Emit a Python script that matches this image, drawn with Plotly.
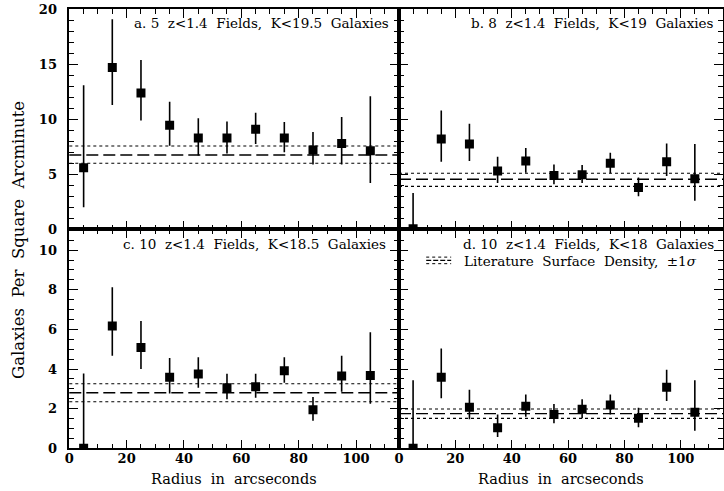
import plotly.graph_objects as go
from plotly.subplots import make_subplots

radius = [5, 15, 25, 35, 45, 55, 65, 75, 85, 95, 105]

a_val = [5.6, 14.7, 12.4, 9.45, 8.3, 8.3, 9.1, 8.3, 7.2, 7.8, 7.15]
a_hi = [13.1, 19.1, 15.4, 11.6, 10.1, 9.8, 10.6, 9.75, 8.85, 10.2, 12.1]
a_lo = [2.0, 11.3, 9.9, 7.6, 6.7, 6.9, 7.75, 7.0, 5.9, 5.9, 4.2]
a_lit = [6.75, 6.0, 7.57]

b_val = [0.05, 8.2, 7.75, 5.3, 6.2, 4.9, 4.95, 6.0, 3.8, 6.15, 4.6]
b_hi = [3.3, 10.8, 9.6, 6.6, 7.4, 5.9, 5.85, 6.95, 4.7, 7.8, 7.75]
b_lo = [0.0, 6.15, 6.2, 4.2, 5.15, 4.1, 4.2, 5.1, 3.0, 4.85, 2.6]
b_lit = [4.55, 3.9, 5.1]

c_val = [0.0, 6.17, 5.09, 3.58, 3.75, 3.06, 3.1, 3.91, 1.95, 3.65, 3.67]
c_hi = [3.78, 8.13, 6.42, 4.55, 4.59, 3.76, 3.76, 4.6, 2.59, 4.67, 5.85]
c_lo = [0.0, 4.67, 4.0, 2.77, 3.06, 2.47, 2.55, 3.31, 1.39, 2.85, 2.25]
c_lit = [2.8, 2.35, 3.26]

d_val = [0.0, 3.58, 2.07, 1.04, 2.12, 1.71, 1.97, 2.18, 1.51, 3.08, 1.82]
d_hi = [3.43, 5.04, 2.96, 1.71, 2.72, 2.23, 2.47, 2.72, 2.05, 3.96, 3.43]
d_lo = [0.0, 2.52, 1.46, 0.57, 1.59, 1.26, 1.51, 1.71, 1.06, 2.39, 0.89]
d_lit = [1.75, 1.51, 1.98]

titles = ["a. 5  z<1.4  Fields,  K<19.5  Galaxies",
          "b. 8  z<1.4  Fields,  K<19  Galaxies",
          "c. 10  z<1.4  Fields,  K<18.5  Galaxies",
          "d. 10  z<1.4  Fields,  K<18  Galaxies"]
legend_text = "Literature  Surface  Density,  ±1<i>σ</i>"
x_title = "Radius  in  arcseconds"
y_title = "Galaxies  Per  Square  Arcminute"

FONT = "DejaVu Serif"
W, H = 724, 491

fig = make_subplots(rows=2, cols=2, horizontal_spacing=0, vertical_spacing=0)

panels = [
    (1, 1, a_val, a_hi, a_lo, a_lit),
    (1, 2, b_val, b_hi, b_lo, b_lit),
    (2, 1, c_val, c_hi, c_lo, c_lit),
    (2, 2, d_val, d_hi, d_lo, d_lit),
]

for r, c, val, hi, lo, lit in panels:
    plus = [h - v for h, v in zip(hi, val)]
    minus = [v - l for v, l in zip(val, lo)]
    fig.add_trace(go.Scatter(
        x=radius, y=val, mode="markers",
        marker=dict(symbol="square", size=9, color="black"),
        error_y=dict(type="data", array=plus, arrayminus=minus,
                     width=0, thickness=1.6, color="black"),
        showlegend=False), row=r, col=c)
    mid, low, high = lit
    fig.add_hline(y=mid, line=dict(color="black", width=1.4, dash="12px,5px"), row=r, col=c)
    fig.add_hline(y=low, line=dict(color="black", width=1.1, dash="dot"), row=r, col=c)
    fig.add_hline(y=high, line=dict(color="black", width=1.1, dash="dot"), row=r, col=c)

# domains (pixel based)
x_left = [69.3 / W, 399 / W]
x_right = [399 / W, 723 / W]
y_top = [1 - 229.3 / H, 1 - 9.3 / H]
y_bot = [1 - 448.3 / H, 1 - 229.3 / H]

axis_common = dict(showline=True, linecolor="black", linewidth=1.5, mirror="allticks",
                   ticks="inside", ticklen=9, tickwidth=1.3, tickcolor="black",
                   showgrid=False, zeroline=False, automargin=False,
                   tickfont=dict(family=FONT, size=13, color="black", weight="bold"))

for i, (xd, yd) in enumerate([(x_left, y_top), (x_right, y_top), (x_left, y_bot), (x_right, y_bot)], start=1):
    row = 1 if i <= 2 else 2
    xa = dict(axis_common, domain=xd, range=[0, 115], dtick=20, tick0=0,
              minor=dict(dtick=5, ticks="inside", ticklen=5, tickwidth=1.3, tickcolor="black"),
              showticklabels=(row == 2), ticklabelstandoff=-3)
    if row == 1:
        ya = dict(axis_common, domain=yd, range=[0, 20], dtick=5, tick0=0,
                  minor=dict(dtick=1, ticks="inside", ticklen=5, tickwidth=1.3, tickcolor="black"))
    else:
        ya = dict(axis_common, domain=yd, range=[0, 11.05], dtick=2, tick0=0,
                  minor=dict(dtick=0.5, ticks="inside", ticklen=5, tickwidth=1.3, tickcolor="black"))
    ya["showticklabels"] = (i in (1, 3))
    ya["ticklabelstandoff"] = 8
    sfx = "" if i == 1 else str(i)
    fig.update_layout({"xaxis" + sfx: xa, "yaxis" + sfx: ya})

# panel titles (right-aligned)
title_pos = [(0.973, 0.938), (0.975, 0.938), (0.964, 0.935), (0.975, 0.935)]
for i, (t, (tx, ty)) in enumerate(zip(titles, title_pos), start=1):
    sfx = "" if i == 1 else str(i)
    fig.add_annotation(text=t, xref="x" + sfx + " domain", yref="y" + sfx + " domain",
                       x=tx, y=ty, xanchor="right", yanchor="middle", showarrow=False,
                       borderpad=0, font=dict(family=FONT, size=13.5, color="black"))

# legend entry in panel d
fig.add_annotation(text=legend_text, xref="x4 domain", yref="y4 domain",
                   x=0.198, y=0.856, xanchor="left", yanchor="middle", showarrow=False,
                   borderpad=0, font=dict(family=FONT, size=13.5, color="black"))
fig.add_shape(type="line", xref="x4 domain", yref="y4 domain", x0=0.084, x1=0.161,
              y0=0.858, y1=0.858, line=dict(color="black", width=1.2, dash="5px,2px"))
for yy in (0.873, 0.843):
    fig.add_shape(type="line", xref="x4 domain", yref="y4 domain", x0=0.084, x1=0.161,
                  y0=yy, y1=yy, line=dict(color="black", width=1, dash="dot"))

# axis titles
for xc in ((69.3 + 399) / 2 / W, (399 + 723) / 2 / W):
    fig.add_annotation(text=x_title, xref="paper", yref="paper", x=xc, y=1 - 479 / H,
                       xanchor="center", yanchor="middle", showarrow=False,
                       font=dict(family=FONT, size=14.5, color="black"))
fig.add_annotation(text=y_title, xref="paper", yref="paper", x=18 / W, y=1 - 240 / H,
                   xanchor="center", yanchor="middle", textangle=-90, showarrow=False,
                   font=dict(family=FONT, size=16.5, color="black"))

fig.update_layout(width=W, height=H, margin=dict(l=0, r=0, t=0, b=0, autoexpand=False),
                  paper_bgcolor="white", plot_bgcolor="white", showlegend=False)

fig.write_html("out.html")
